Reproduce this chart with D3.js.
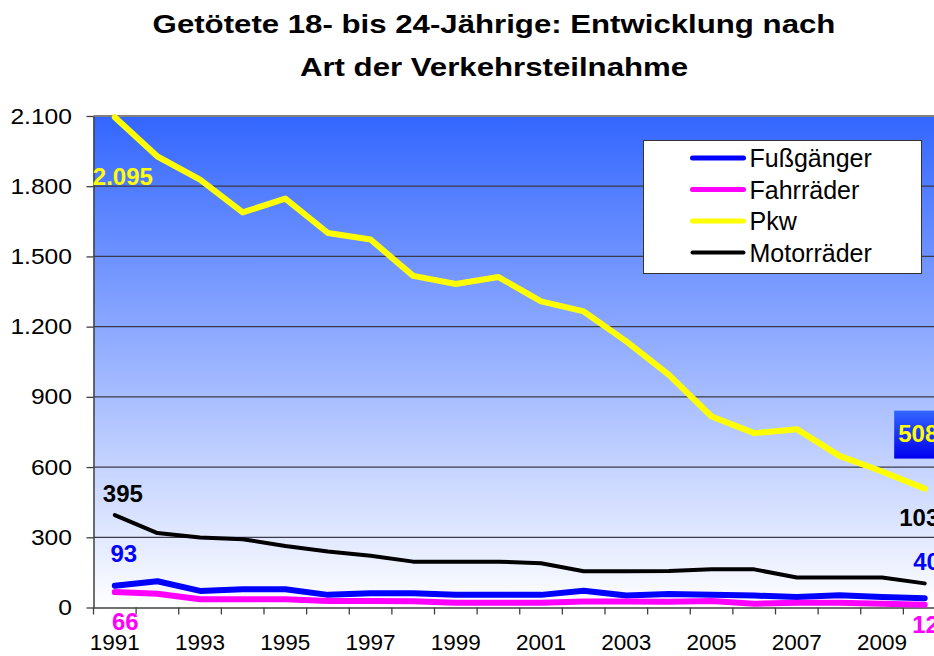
<!DOCTYPE html>
<html>
<head>
<meta charset="utf-8">
<script src="https://cdn.jsdelivr.net/npm/d3@7"></script>
<style>
  body { margin: 0; background: #fff; }
  svg { display: block; font-family: Arial, "Liberation Sans", sans-serif; }
</style>
</head>
<body>
<div id="container"></div>
<script>
// Years on the category axis
var years = d3.range(1991, 2011)

// Killed 18-24 year olds per mode of transport
var fussgaenger = [93, 112, 71, 78, 78, 54, 61, 61, 54, 54, 54, 72, 51, 58, 54, 51, 45, 52, 45, 40]
var fahrraeder = [66, 59, 35, 35, 35, 28, 28, 27, 20, 20, 20, 26, 26, 25, 28, 16, 20, 20, 16, 12]
var pkw = [2095, 1927, 1828, 1688, 1747, 1600, 1572, 1417, 1382, 1412, 1308, 1265, 1137, 994, 816, 745, 762, 648, 581, 508]
var motorraeder = [395, 318, 299, 292, 263, 239, 221, 196, 196, 196, 189, 155, 155, 156, 163, 163, 128, 128, 128, 103]

var seriesNames = ["Fußgänger", "Fahrräder", "Pkw", "Motorräder"]
var seriesValues = [fussgaenger, fahrraeder, pkw, motorraeder]
var seriesColors = ["#0000ff", "#ff00ff", "#ffff00", "#000000"]
var seriesWidths = [6, 6, 6, 4]

// y axis ticks
var yTicks = d3.range(0, 2101, 300)

// Dimensions
var width = 934;
var height = 656;
var plot = {left: 93.5, top: 116, bottom: 607.5, right: 946};

// German number format (dot as thousands separator)
var de = d3.formatLocale({decimal: ",", thousands: ".", grouping: [3], currency: ["", " €"]})
var fmt = de.format(",d")

var svg = d3.select("#container")
            .append("svg")
            .attr("width", width)
            .attr("height", height)

// Gradients for plot area and the highlighted label box
var defs = svg.append("defs")
var bg = defs.append("linearGradient")
             .attr("id", "bg")
             .attr("x1", 0).attr("y1", 0).attr("x2", 0).attr("y2", 1)
bg.append("stop").attr("offset", "0%").attr("stop-color", "#3366ff")
bg.append("stop").attr("offset", "100%").attr("stop-color", "#ffffff")

var boxGrad = defs.append("linearGradient")
                  .attr("id", "boxGrad")
                  .attr("x1", 0).attr("y1", 0).attr("x2", 0).attr("y2", 1)
boxGrad.append("stop").attr("offset", "0%").attr("stop-color", "#3366ff")
boxGrad.append("stop").attr("offset", "100%").attr("stop-color", "#0000ee")

// Scales
var xScale = d3.scaleBand()
               .domain(years)
               .range([plot.left, plot.right])

var yScale = d3.scaleLinear()
               .domain([0, 2100])
               .range([plot.bottom, plot.top])

var cx = (d) => xScale(d) + xScale.bandwidth() / 2

// Title (the original is a little stretched horizontally)
var title = svg.append("g")
               .attr("transform", "translate(494,0) scale(1.2,1)")
               .attr("text-anchor", "middle")
               .style("font-size", "26px")
               .style("font-weight", "bold")

title.append("text")
     .attr("y", 33)
     .text("Getötete 18- bis 24-Jährige: Entwicklung nach")

title.append("text")
     .attr("y", 76.5)
     .text("Art der Verkehrsteilnahme")

// Plot area background
svg.append("rect")
   .attr("x", plot.left)
   .attr("y", plot.top)
   .attr("width", plot.right - plot.left)
   .attr("height", plot.bottom - plot.top)
   .attr("fill", "url(#bg)")

// Grid lines
svg.append("g").selectAll("line")
   .data(yTicks.filter((d) => d > 0 && d < 2100))
   .enter()
   .append("line")
   .attr("x1", plot.left)
   .attr("x2", plot.right)
   .attr("y1", (d) => yScale(d))
   .attr("y2", (d) => yScale(d))
   .attr("stroke", "#3a3a4a")
   .attr("stroke-width", 1.3)

// top border
svg.append("line")
   .attr("x1", plot.left).attr("x2", plot.right)
   .attr("y1", plot.top).attr("y2", plot.top)
   .attr("stroke", "#808080")
   .attr("stroke-width", 2)

// Y axis
var yAxis = d3.axisLeft(yScale)
              .tickValues(yTicks)
              .tickFormat(fmt)
              .tickSize(7)
              .tickPadding(12.2)
              .tickSizeOuter(0)

var yG = svg.append("g")
            .attr("transform", "translate(" + plot.left + ",0)")
            .call(yAxis)
yG.select(".domain").attr("stroke", "#404040").attr("stroke-width", 1.5)
yG.selectAll(".tick line").attr("stroke", "#404040").attr("stroke-width", 1.3)
yG.selectAll(".tick text")
  .attr("transform", "scale(1.12,1)")
  .style("font-size", "22px")
  .style("font-family", "Arial, 'Liberation Sans', sans-serif")
  .attr("fill", "#000")

// X axis: labels every other year at category centers
var xAxis = d3.axisBottom(xScale)
              .tickValues(years.filter((d) => d % 2 == 1))
              .tickSize(0)
              .tickPadding(27)
              .tickSizeOuter(0)

var xG = svg.append("g")
            .attr("transform", "translate(0," + plot.bottom + ")")
            .call(xAxis)
xG.select(".domain").attr("stroke", "#404040").attr("stroke-width", 1.5)
xG.selectAll(".tick text")
  .style("font-size", "22.5px")
  .style("font-family", "Arial, 'Liberation Sans', sans-serif")
  .attr("fill", "#000")

// tick marks between categories
xG.append("g").selectAll("line")
  .data(years)
  .enter()
  .append("line")
  .attr("x1", (d) => xScale(d))
  .attr("x2", (d) => xScale(d))
  .attr("y1", 0)
  .attr("y2", 7)
  .attr("stroke", "#404040")
  .attr("stroke-width", 1.3)

// Lines
var line = d3.line()
             .x((d, i) => cx(years[i]))
             .y((d) => yScale(d))

svg.append("g").selectAll("path")
   .data(seriesValues)
   .enter()
   .append("path")
   .attr("d", line)
   .attr("fill", "none")
   .attr("stroke", (d, i) => seriesColors[i])
   .attr("stroke-width", (d, i) => seriesWidths[i])
   .attr("stroke-linejoin", "round")
   .attr("stroke-linecap", "round")

// Legend
var legend = svg.append("g")
                .attr("transform", "translate(643.5,140.5)")

legend.append("rect")
      .attr("width", 278)
      .attr("height", 133)
      .attr("fill", "#fff")
      .attr("stroke", "#333")
      .attr("stroke-width", 1)

var rows = legend.selectAll("g.row")
                 .data(seriesNames)
                 .enter()
                 .append("g")
                 .attr("class", "row")
                 .attr("transform", (d, i) => "translate(0," + (17.5 + i * 31.5) + ")")

rows.append("line")
    .attr("x1", 49).attr("x2", 100)
    .attr("stroke", (d, i) => seriesColors[i])
    .attr("stroke-width", (d, i) => i == 3 ? 4 : 5)
    .attr("stroke-linecap", "round")

rows.append("text")
    .attr("x", 106)
    .attr("dy", "0.36em")
    .style("font-size", "25px")
    .text((d) => d)

// Data labels for first and last year
var first = years[0]
var last = years[years.length - 1]
var n = years.length - 1

// highlighted box behind the last Pkw value
svg.append("rect")
   .attr("x", cx(last) - 30.5)
   .attr("y", yScale(pkw[n]) - 78)
   .attr("width", 60)
   .attr("height", 48)
   .attr("fill", "url(#boxGrad)")

var labels = [
  {text: fmt(pkw[0]), x: cx(first) - 22, y: yScale(pkw[0]) + 68, color: "#ffff00", anchor: "start"},
  {text: fmt(motorraeder[0]), x: cx(first) + 8, y: yScale(motorraeder[0]) - 13.5, color: "#000", anchor: "middle"},
  {text: fmt(fussgaenger[0]), x: cx(first) + 9, y: yScale(fussgaenger[0]) - 24, color: "#0000ff", anchor: "middle"},
  {text: fmt(fahrraeder[0]), x: cx(first) + 10.5, y: yScale(fahrraeder[0]) + 38, color: "#ff00ff", anchor: "middle"},
  {text: fmt(pkw[n]), x: cx(last) - 26.5, y: yScale(pkw[n]) - 47, color: "#ffff00", anchor: "start"},
  {text: fmt(motorraeder[n]), x: cx(last) - 25.5, y: yScale(motorraeder[n]) - 57.5, color: "#000", anchor: "start"},
  {text: fmt(fussgaenger[n]), x: cx(last) - 11.5, y: yScale(fussgaenger[n]) - 28, color: "#0000ff", anchor: "start"},
  {text: fmt(fahrraeder[n]), x: cx(last) - 12.5, y: yScale(fahrraeder[n]) + 28.5, color: "#ff00ff", anchor: "start"}
]

svg.append("g").selectAll("text")
   .data(labels)
   .enter()
   .append("text")
   .attr("x", (d) => d.x)
   .attr("y", (d) => d.y)
   .attr("text-anchor", (d) => d.anchor)
   .attr("fill", (d) => d.color)
   .style("font-size", "24px")
   .style("font-weight", "bold")
   .text((d) => d.text)
</script>
</body>
</html>
